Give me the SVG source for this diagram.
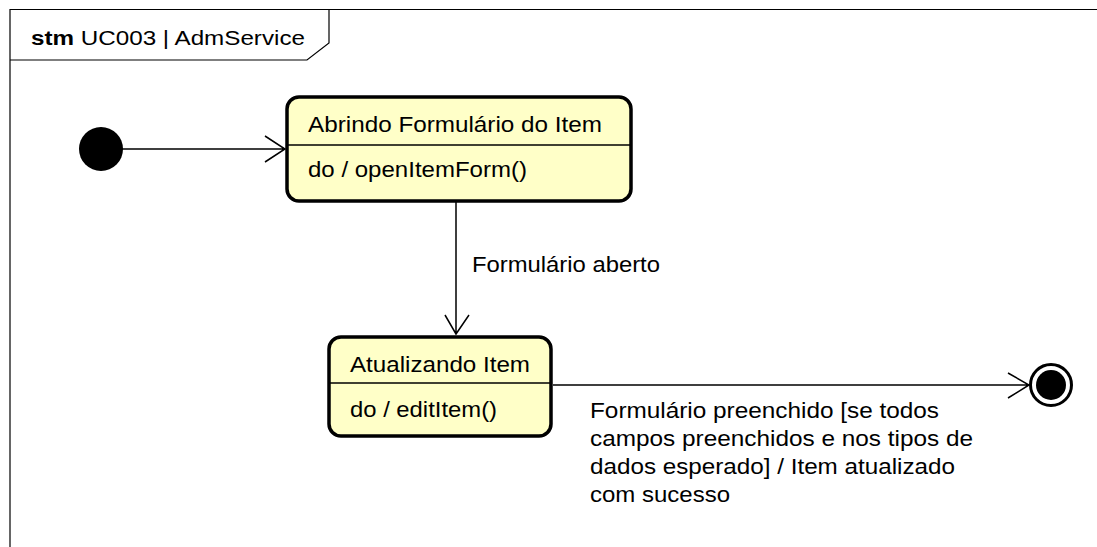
<svg xmlns="http://www.w3.org/2000/svg" width="1097" height="547" viewBox="0 0 1097 547">
<style>
text{font-family:"Liberation Sans",Arial,sans-serif;font-size:22px;fill:#000}
.st{fill:#ffffc8;stroke:#000;stroke-width:3.5}
.ln{stroke:#000;stroke-width:1.5;fill:none}
.fr{stroke:#000;stroke-width:1.2;fill:none}
</style>
<rect width="1097" height="547" fill="#fff"/>
<g id="frame">
<path class="fr" d="M10,547 V9.5 H1097"/>
<path class="fr" d="M10,60 H307 L329,43 V9.5"/>
<text x="31" y="45" textLength="274" lengthAdjust="spacingAndGlyphs" style="font-size:20px"><tspan font-weight="bold">stm</tspan> UC003 | AdmService</text>
</g>
<g id="connectors">
<path class="ln" d="M122,149 H285 M265,136 L285,149 L265,162"/>
<path class="ln" d="M456,202 V334 M445,315 L456,334 L469,315"/>
<text x="472" y="272" textLength="188" lengthAdjust="spacingAndGlyphs">Formulário aberto</text>
<path class="ln" d="M553,385 H1029 M1008,373 L1029,385 L1008,398"/>
<text x="590" y="418" textLength="349" lengthAdjust="spacingAndGlyphs">Formulário preenchido [se todos</text>
<text x="590" y="446" textLength="383" lengthAdjust="spacingAndGlyphs">campos preenchidos e nos tipos de</text>
<text x="590" y="474" textLength="365" lengthAdjust="spacingAndGlyphs">dados esperado] / Item atualizado</text>
<text x="590" y="502" textLength="140" lengthAdjust="spacingAndGlyphs">com sucesso</text>
</g>
<g id="initial">
<circle cx="101" cy="149" r="22" fill="#000"/>
</g>
<g id="s1">
<rect class="st" x="287" y="97" width="344" height="104" rx="12"/>
<line x1="287" y1="145" x2="631" y2="145" stroke="#000" stroke-width="1.5"/>
<text x="308" y="132" textLength="294" lengthAdjust="spacingAndGlyphs">Abrindo Formulário do Item</text>
<text x="308" y="177" textLength="219" lengthAdjust="spacingAndGlyphs">do / openItemForm()</text>
</g>
<g id="s2">
<rect class="st" x="329" y="337" width="222" height="99" rx="12"/>
<line x1="329" y1="383" x2="551" y2="383" stroke="#000" stroke-width="1.5"/>
<text x="350" y="372" textLength="180" lengthAdjust="spacingAndGlyphs">Atualizando Item</text>
<text x="350" y="417" textLength="147" lengthAdjust="spacingAndGlyphs">do / editItem()</text>
</g>
<g id="final">
<circle cx="1051" cy="385" r="20.5" fill="#fff" stroke="#000" stroke-width="3"/>
<circle cx="1051" cy="385" r="15" fill="#000"/>
</g>
</svg>
